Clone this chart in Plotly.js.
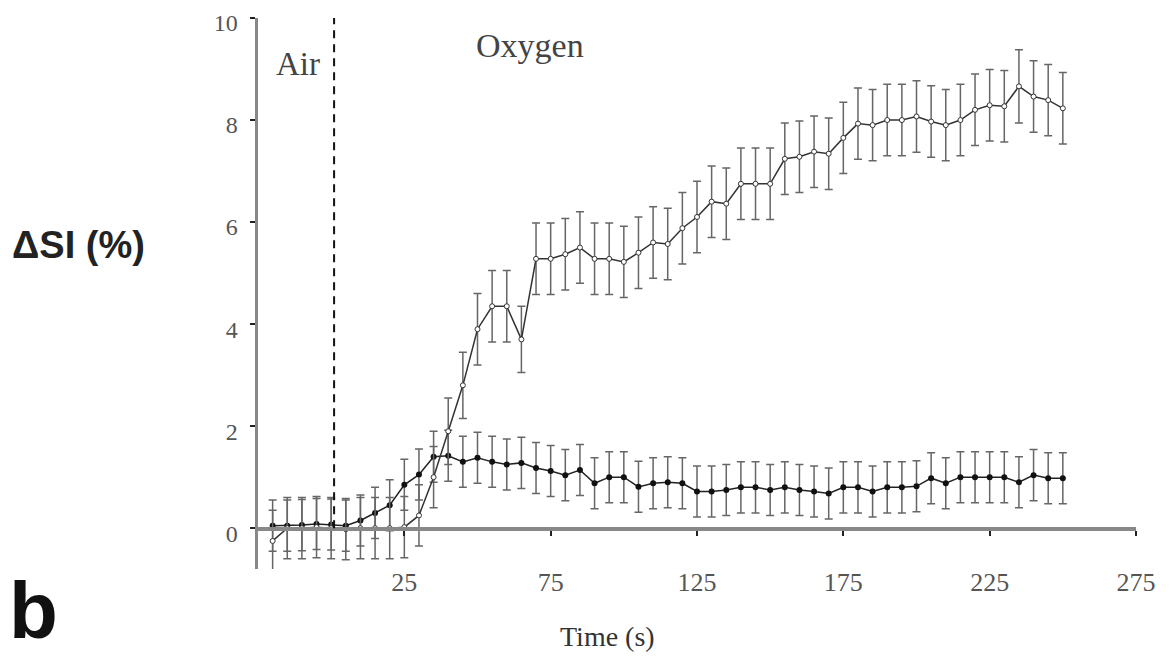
<!DOCTYPE html>
<html>
<head>
<meta charset="utf-8">
<script src="https://cdn.plot.ly/plotly-3.0.1.min.js"></script>
<style>html,body{margin:0;padding:0;background:#fff;}#chart{width:1175px;height:658px;}</style>
</head>
<body>
<div id="chart"></div>
<script>
// Time points (s)
const timeS = [-20,-15,-10,-5,0,5,10,15,20,25,30,35,40,45,50,55,60,65,70,75,80,85,90,95,100,105,110,115,120,125,130,135,140,145,150,155,160,165,170,175,180,185,190,195,200,205,210,215,220,225,230,235,240,245,250];

// Upper series (open markers)
const upperSI = [-0.25,0.0,0.0,0.02,0.0,-0.02,0.0,0.0,0.0,0.02,0.25,1.0,1.9,2.8,3.9,4.35,4.35,3.7,5.28,5.28,5.37,5.5,5.28,5.28,5.22,5.4,5.6,5.57,5.88,6.1,6.4,6.36,6.75,6.75,6.75,7.24,7.28,7.38,7.34,7.65,7.93,7.9,8.0,8.0,8.07,7.97,7.9,8.0,8.2,8.29,8.27,8.66,8.46,8.39,8.23];
const upperErr = [0.6,0.6,0.6,0.6,0.6,0.6,0.6,0.6,0.6,0.6,0.6,0.6,0.65,0.65,0.7,0.7,0.7,0.65,0.7,0.7,0.7,0.7,0.7,0.7,0.7,0.7,0.7,0.7,0.7,0.7,0.7,0.7,0.7,0.7,0.7,0.7,0.7,0.7,0.7,0.7,0.7,0.7,0.7,0.7,0.7,0.7,0.7,0.7,0.7,0.7,0.7,0.72,0.7,0.7,0.7];

// Lower series (filled markers)
const lowerSI = [0.05,0.05,0.06,0.08,0.07,0.05,0.15,0.3,0.45,0.85,1.05,1.4,1.42,1.3,1.38,1.3,1.25,1.28,1.18,1.12,1.04,1.14,0.88,1.0,1.0,0.81,0.88,0.9,0.88,0.72,0.72,0.75,0.8,0.8,0.75,0.8,0.75,0.72,0.68,0.8,0.8,0.72,0.8,0.8,0.82,0.98,0.88,1.0,1.0,1.0,1.0,0.9,1.04,0.98,0.98];
const lowerErr = [0.5,0.5,0.5,0.5,0.5,0.5,0.5,0.5,0.5,0.5,0.5,0.5,0.5,0.5,0.5,0.5,0.5,0.5,0.5,0.5,0.5,0.5,0.5,0.5,0.5,0.5,0.5,0.5,0.5,0.5,0.5,0.5,0.5,0.5,0.5,0.5,0.5,0.5,0.5,0.5,0.5,0.5,0.5,0.5,0.5,0.5,0.5,0.5,0.5,0.5,0.5,0.5,0.5,0.5,0.5];

const xTicks = [25,75,125,175,225,275];
const yTicks = [0,2,4,6,8,10];
const switchTime = 1;

const serif = 'Liberation Serif, Times New Roman, serif';
const sans = 'Liberation Sans, Arial, sans-serif';

const traces = [
  {
    x: timeS, y: lowerSI, type: 'scatter', mode: 'lines+markers',
    line: {color: '#222', width: 1.5},
    marker: {symbol: 'circle', size: 6, color: '#111'},
    error_y: {type: 'data', array: lowerErr, visible: true, color: '#666', thickness: 1.5, width: 4},
    showlegend: false, cliponaxis: false
  },
  {
    x: timeS, y: upperSI, type: 'scatter', mode: 'lines+markers',
    line: {color: '#333', width: 1.5},
    marker: {symbol: 'circle', size: 5, color: '#fff', line: {color: '#333', width: 1}},
    error_y: {type: 'data', array: upperErr, visible: true, color: '#666', thickness: 1.5, width: 4},
    showlegend: false, cliponaxis: false
  }
];

const layout = {
  width: 1175, height: 658,
  margin: {l: 258, r: 39, t: 18, b: 89},
  paper_bgcolor: '#fff', plot_bgcolor: '#fff',
  xaxis: {
    range: [-25, 275], tickvals: xTicks, ticktext: xTicks.map(String),
    showline: true, linecolor: '#888', linewidth: 3.5,
    ticks: 'outside', ticklen: 5, tickwidth: 2, tickcolor: '#222',
    anchor: 'free', position: 0.8/10.8,
    showgrid: false, zeroline: false,
    tickfont: {family: serif, size: 26, color: '#555'},
    ticklabelstandoff: 24
  },
  yaxis: {
    range: [-0.8, 10], tickvals: yTicks, ticktext: yTicks.map(String),
    showline: true, linecolor: '#888', linewidth: 3.5,
    ticks: 'outside', ticklen: 5, tickwidth: 2, tickcolor: '#222',
    showgrid: false, zeroline: false,
    tickfont: {family: serif, size: 24, color: '#555'},
    ticklabelstandoff: 7, ticklabelshift: 5
  },
  shapes: [
    {type: 'line', xref: 'x', yref: 'y', x0: switchTime, x1: switchTime, y0: 0, y1: 10,
     line: {color: '#111', width: 2, dash: '8px,6px'}}
  ],
  annotations: [
    {text: 'Air', xref: 'x', yref: 'y', x: -11.5, y: 9.1, xanchor: 'center', yanchor: 'middle', showarrow: false,
     font: {family: serif, size: 33, color: '#444'}},
    {text: 'Oxygen', xref: 'x', yref: 'y', x: 68, y: 9.47, xanchor: 'center', yanchor: 'middle', showarrow: false,
     font: {family: serif, size: 34, color: '#444'}},
    {text: '<b>ΔSI (%)</b>', xref: 'paper', yref: 'paper', x: -0.2825, y: 0.588, xanchor: 'left', yanchor: 'middle', showarrow: false,
     font: {family: sans, size: 38, color: '#222'}},
    {text: 'Time (s)', xref: 'paper', yref: 'paper', x: 0.3975, y: -0.1216, xanchor: 'center', yanchor: 'middle', showarrow: false,
     font: {family: serif, size: 28, color: '#333'}},
    {text: '<b>b</b>', xref: 'paper', yref: 'paper', x: -0.2859, y: -0.1597, xanchor: 'left', yanchor: 'bottom', showarrow: false,
     font: {family: sans, size: 80, color: '#111'}}
  ]
};

Plotly.newPlot('chart', traces, layout, {displayModeBar: false, staticPlot: true});
</script>
</body>
</html>
